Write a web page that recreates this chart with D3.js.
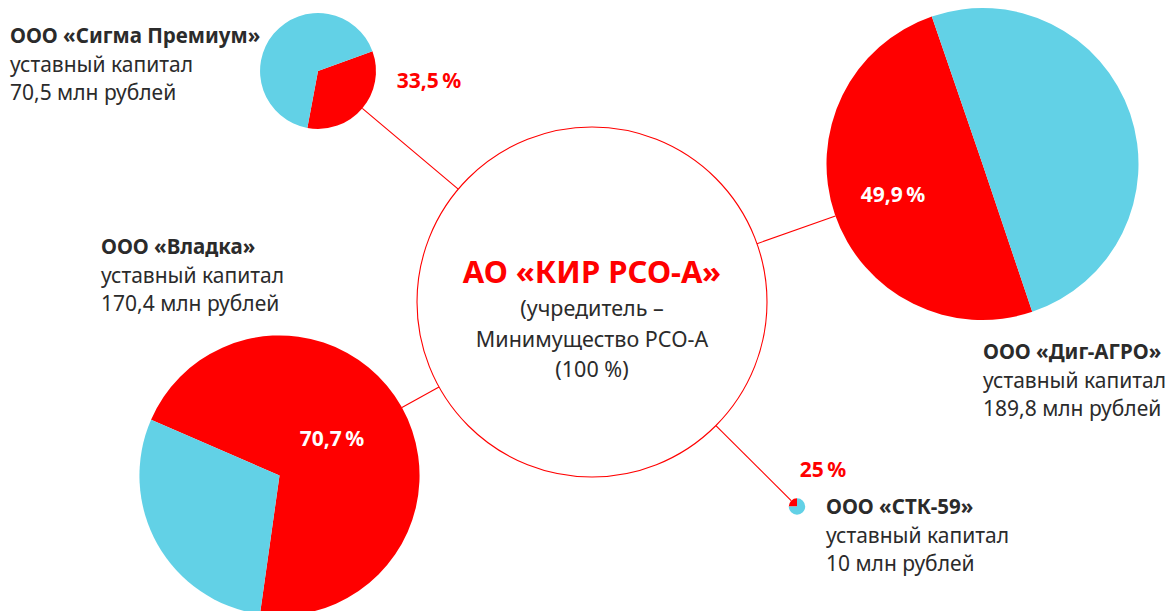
<!DOCTYPE html>
<html><head><meta charset="utf-8">
<script src="https://cdn.jsdelivr.net/npm/d3@7/dist/d3.min.js"></script>
<style>
html,body{margin:0;padding:0;background:#fff;}
svg{display:block;font-family:"Noto Sans","Open Sans",sans-serif;}
</style></head>
<body>
<svg id="chart" width="1170" height="611"></svg>
<script>
// ---- data ----
const companies = ["ООО «Сигма Премиум»", "ООО «Владка»", "ООО «Диг-АГРО»", "ООО «СТК-59»"];
const capitalMln = [70.5, 170.4, 189.8, 10];
const capitalLabels = ["70,5 млн рублей", "170,4 млн рублей", "189,8 млн рублей", "10 млн рублей"];
const sharePct = [33.5, 70.7, 49.9, 25];
const shareLabels = ["33,5\u2009%", "70,7\u2009%", "49,9\u2009%", "25\u2009%"];
const capitalCaption = "уставный капитал";
const parentName = "АО «КИР РСО-А»";
const parentLines = ["(учредитель –", "Минимущество РСО-А", "(100 %)"];

// ---- layout ----
const RED = "#ff0000", BLUE = "#62d1e6", TEXT = "#2b2b2b";
const hub = {x: 592, y: 302, r: 175};
const layout = [
  {cx: 318, cy: 71, rot: 70, lx: 10, ly: 43, px: 429, py: 88, pColor: RED},
  {cx: 279.5, cy: 475.5, rot: 293.5, lx: 101, ly: 254, px: 332, py: 446, pColor: "#fff"},
  {cx: 982.5, cy: 164, rot: 161.4, lx: 983, ly: 359, px: 893, py: 202, pColor: "#fff"},
  {cx: 797, cy: 506.5, rot: 270, lx: 826, ly: 514, px: 823, py: 477, pColor: RED}
];
const lineGap = 28.5;

const svg = d3.select("#chart");
const rScale = d3.scaleLinear().domain([0, d3.max(capitalMln)]).range([0, 156]);
const rad = Math.PI / 180;

// connectors (center-to-center direction, edge to edge)
companies.forEach((c, i) => {
  const L = layout[i];
  const dx = L.cx - hub.x, dy = L.cy - hub.y;
  const d = Math.hypot(dx, dy), ux = dx / d, uy = dy / d;
  const r = rScale(capitalMln[i]);
  svg.append("line")
    .attr("x1", hub.x + ux * hub.r).attr("y1", hub.y + uy * hub.r)
    .attr("x2", L.cx - ux * r).attr("y2", L.cy - uy * r)
    .attr("stroke", RED).attr("stroke-width", 1.1);
});

// central circle
svg.append("circle").attr("cx", hub.x).attr("cy", hub.y).attr("r", hub.r)
  .attr("fill", "#fff").attr("stroke", RED).attr("stroke-width", 1.1);
svg.append("text").attr("x", hub.x).attr("y", 283).attr("text-anchor", "middle")
  .attr("fill", RED).attr("font-weight", 700).attr("font-size", 31).text(parentName);
parentLines.forEach((t, k) => {
  svg.append("text").attr("x", hub.x).attr("y", 316 + k * 30.5).attr("text-anchor", "middle")
    .attr("fill", TEXT).attr("font-size", 21.5).text(t);
});

// pies
companies.forEach((c, i) => {
  const L = layout[i];
  const r = rScale(capitalMln[i]);
  const pie = d3.pie().sort(null)
    .startAngle(L.rot * rad).endAngle(L.rot * rad + 2 * Math.PI);
  const arcs = pie([sharePct[i], 100 - sharePct[i]]);
  const arc = d3.arc().innerRadius(0).outerRadius(r);
  const g = svg.append("g").attr("transform", `translate(${L.cx},${L.cy})`);
  g.selectAll("path").data(arcs).join("path")
    .attr("d", arc).attr("fill", (d, j) => j === 0 ? RED : BLUE);

  // percent label
  svg.append("text").attr("x", L.px).attr("y", L.py).attr("text-anchor", "middle")
    .attr("fill", L.pColor).attr("font-weight", 700).attr("font-size", 21).text(shareLabels[i]);

  // company label
  const t = svg.append("text").attr("fill", TEXT).attr("font-size", 21);
  t.append("tspan").attr("x", L.lx).attr("y", L.ly).attr("font-weight", 700)
    .attr("font-size", 20.5).text(c);
  t.append("tspan").attr("x", L.lx).attr("y", L.ly + lineGap).text(capitalCaption);
  t.append("tspan").attr("x", L.lx).attr("y", L.ly + 2 * lineGap).text(capitalLabels[i]);
});
</script>
</body></html>
